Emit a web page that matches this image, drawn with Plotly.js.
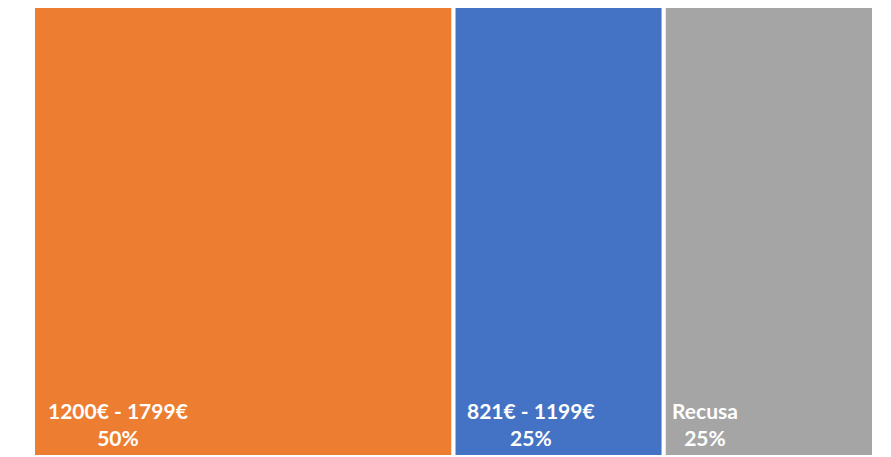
<!DOCTYPE html>
<html>
<head>
<meta charset="utf-8">
<script src="https://cdn.plot.ly/plotly-3.0.1.min.js"></script>
<style>html,body{margin:0;padding:0;background:#fff;}#chart{width:891px;height:457px;}</style>
</head>
<body>
<div id="chart"></div>
<script>
const labels = ["1200€ - 1799€", "821€ - 1199€", "Recusa"];
const parents = ["", "", ""];
const values = [50, 25, 25];
const percentLabels = ["50%", "25%", "25%"];
const colors = ["#ED7D31", "#4472C4", "#A5A5A5"];

// label offsets inside each tile (styling, px)
const labelShift = [13, 11, 6];

const total = values.reduce((a, b) => a + b, 0);
let cum = 0;
const annotations = labels.map((lab, i) => {
  const x0 = cum / total;
  cum += values[i];
  return {
    xref: "paper", yref: "paper",
    x: x0, y: 0,
    xanchor: "left", yanchor: "bottom",
    xshift: labelShift[i], yshift: 5,
    align: "center",
    showarrow: false,
    text: lab + "<br>" + percentLabels[i],
    font: {family: "Lato, 'Open Sans', sans-serif", size: 21, color: "#ffffff", weight: "bold"}
  };
});

Plotly.newPlot("chart", [{
  type: "treemap",
  labels: labels,
  parents: parents,
  values: values,
  textinfo: "none",
  hoverinfo: "skip",
  sort: false,
  tiling: {packing: "dice", pad: 0},
  pathbar: {visible: false},
  marker: {colors: colors, line: {color: "#ffffff", width: 4}, pad: {t: 0, l: 0, r: 0, b: 0}}
}], {
  width: 891, height: 457,
  margin: {l: 33, r: 17, t: 6, b: 0},
  paper_bgcolor: "#ffffff",
  showlegend: false,
  annotations: annotations
}, {displayModeBar: false, staticPlot: true});
</script>
</body>
</html>
